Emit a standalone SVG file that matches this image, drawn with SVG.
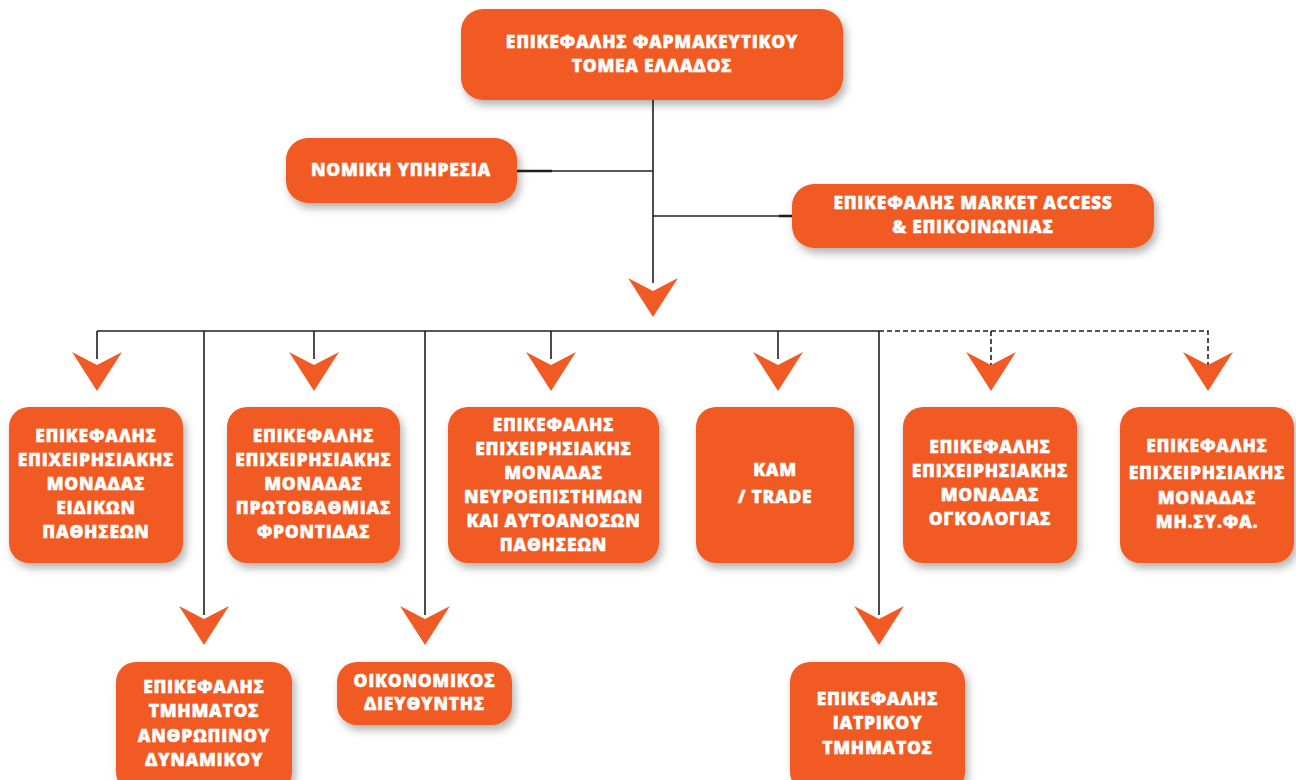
<svg xmlns="http://www.w3.org/2000/svg" width="1296" height="780" viewBox="0 0 1296 780">
<defs>
<filter id="sh" x="-20%" y="-20%" width="150%" height="160%">
<feDropShadow dx="3" dy="5" stdDeviation="4" flood-color="#000" flood-opacity="0.3"/>
</filter>
<path id="arr" d="M-25,0 L0,13 L25,0 L0,39 Z" fill="#F15A24"/>
</defs>
<style>
.box{fill:#F15A24;filter:url(#sh)}
.t{font-family:"Open Sans","Liberation Sans",sans-serif;font-weight:800;font-size:17.5px;letter-spacing:0.7px;fill:#fff;stroke:#fff;stroke-width:0.45;text-anchor:middle}
.ln{stroke:#231F20;stroke-width:1.6;fill:none}
.lt{stroke:#231F20;stroke-width:2.6;fill:none}
.ld{stroke:#231F20;stroke-width:1.6;fill:none;stroke-dasharray:5 3}
</style>
<rect width="1296" height="780" fill="#fff"/>
<g id="connectors">
<path class="ln" d="M653,100 V283"/>
<path class="ln" d="M552,171 H653"/>
<path class="lt" d="M517,171 H552"/>
<path class="ln" d="M653,216 H779"/>
<path class="lt" d="M779,216 H792"/>
<use href="#arr" x="653" y="278"/>
<path class="ln" d="M97,331 H879"/>
<path class="ln" d="M97,331 V359 M314,331 V359 M551,331 V359 M778,331 V359"/>
<path class="ln" d="M204,331 V615 M425,331 V615 M879,331 V615"/>
<path class="ld" d="M879,331 H1208 V365 M991,331 V365"/>
<use href="#arr" x="97" y="352"/>
<use href="#arr" x="314" y="352"/>
<use href="#arr" x="551" y="352"/>
<use href="#arr" x="778" y="352"/>
<use href="#arr" x="991" y="352"/>
<use href="#arr" x="1208" y="352"/>
<use href="#arr" x="204" y="606"/>
<use href="#arr" x="425" y="606"/>
<use href="#arr" x="879" y="606"/>
</g>
<g id="n-top">
<rect class="box" x="461" y="9" width="382" height="91" rx="22"/>
<text class="t" x="652" y="48">ΕΠΙΚΕΦΑΛΗΣ ΦΑΡΜΑΚΕΥΤΙΚΟΥ</text>
<text class="t" x="652" y="72">ΤΟΜΕΑ ΕΛΛΑΔΟΣ</text>
</g>
<g id="n-legal">
<rect class="box" x="286" y="138" width="231" height="65" rx="22"/>
<text class="t" x="401" y="176">ΝΟΜΙΚΗ ΥΠΗΡΕΣΙΑ</text>
</g>
<g id="n-market">
<rect class="box" x="792" y="184" width="362" height="64" rx="22"/>
<text class="t" x="973" y="209">ΕΠΙΚΕΦΑΛΗΣ MARKET ACCESS</text>
<text class="t" x="973" y="233">&amp; ΕΠΙΚΟΙΝΩΝΙΑΣ</text>
</g>
<g id="n-special">
<rect class="box" x="9" y="407" width="174" height="156" rx="20"/>
<text class="t" x="96" y="442">ΕΠΙΚΕΦΑΛΗΣ</text>
<text class="t" x="96" y="466">ΕΠΙΧΕΙΡΗΣΙΑΚΗΣ</text>
<text class="t" x="96" y="490">ΜΟΝΑΔΑΣ</text>
<text class="t" x="96" y="514">ΕΙΔΙΚΩΝ</text>
<text class="t" x="96" y="538">ΠΑΘΗΣΕΩΝ</text>
</g>
<g id="n-primary">
<rect class="box" x="227" y="407" width="173" height="156" rx="20"/>
<text class="t" x="313.5" y="442">ΕΠΙΚΕΦΑΛΗΣ</text>
<text class="t" x="313.5" y="466">ΕΠΙΧΕΙΡΗΣΙΑΚΗΣ</text>
<text class="t" x="313.5" y="490">ΜΟΝΑΔΑΣ</text>
<text class="t" x="313.5" y="514">ΠΡΩΤΟΒΑΘΜΙΑΣ</text>
<text class="t" x="313.5" y="538">ΦΡΟΝΤΙΔΑΣ</text>
</g>
<g id="n-neuro">
<rect class="box" x="448" y="407" width="211" height="156" rx="20"/>
<text class="t" x="553.5" y="431">ΕΠΙΚΕΦΑΛΗΣ</text>
<text class="t" x="553.5" y="455">ΕΠΙΧΕΙΡΗΣΙΑΚΗΣ</text>
<text class="t" x="553.5" y="479">ΜΟΝΑΔΑΣ</text>
<text class="t" x="553.5" y="503">ΝΕΥΡΟΕΠΙΣΤΗΜΩΝ</text>
<text class="t" x="553.5" y="527">ΚΑΙ ΑΥΤΟΑΝΟΣΩΝ</text>
<text class="t" x="553.5" y="551">ΠΑΘΗΣΕΩΝ</text>
</g>
<g id="n-kam">
<rect class="box" x="696" y="407" width="158" height="156" rx="20"/>
<text class="t" x="775" y="476">ΚΑΜ</text>
<text class="t" x="775" y="503">/ TRADE</text>
</g>
<g id="n-onco">
<rect class="box" x="903" y="407" width="174" height="156" rx="20"/>
<text class="t" x="990" y="453">ΕΠΙΚΕΦΑΛΗΣ</text>
<text class="t" x="990" y="477">ΕΠΙΧΕΙΡΗΣΙΑΚΗΣ</text>
<text class="t" x="990" y="501">ΜΟΝΑΔΑΣ</text>
<text class="t" x="990" y="525">ΟΓΚΟΛΟΓΙΑΣ</text>
</g>
<g id="n-mhsyfa">
<rect class="box" x="1120" y="407" width="174" height="156" rx="20"/>
<text class="t" x="1207" y="452">ΕΠΙΚΕΦΑΛΗΣ</text>
<text class="t" x="1207" y="479">ΕΠΙΧΕΙΡΗΣΙΑΚΗΣ</text>
<text class="t" x="1207" y="504">ΜΟΝΑΔΑΣ</text>
<text class="t" x="1207" y="528">ΜΗ.ΣΥ.ΦΑ.</text>
</g>
<g id="n-hr">
<rect class="box" x="116" y="662" width="176" height="130" rx="20"/>
<text class="t" x="204" y="693">ΕΠΙΚΕΦΑΛΗΣ</text>
<text class="t" x="204" y="717">ΤΜΗΜΑΤΟΣ</text>
<text class="t" x="204" y="742">ΑΝΘΡΩΠΙΝΟΥ</text>
<text class="t" x="204" y="766">ΔΥΝΑΜΙΚΟΥ</text>
</g>
<g id="n-cfo">
<rect class="box" x="337" y="662" width="175" height="63" rx="20"/>
<text class="t" x="424.5" y="687">ΟΙΚΟΝΟΜΙΚΟΣ</text>
<text class="t" x="424.5" y="710">ΔΙΕΥΘΥΝΤΗΣ</text>
</g>
<g id="n-medical">
<rect class="box" x="790" y="662" width="175" height="130" rx="20"/>
<text class="t" x="877.5" y="705">ΕΠΙΚΕΦΑΛΗΣ</text>
<text class="t" x="877.5" y="729">ΙΑΤΡΙΚΟΥ</text>
<text class="t" x="877.5" y="754">ΤΜΗΜΑΤΟΣ</text>
</g>
</svg>
